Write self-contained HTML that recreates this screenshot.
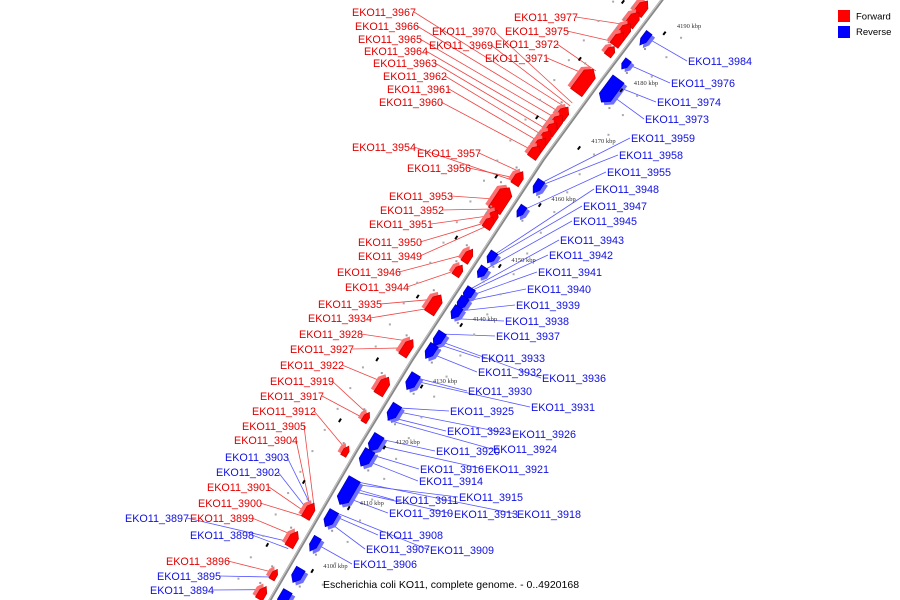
<!DOCTYPE html>
<html><head><meta charset="utf-8"><style>
html,body{margin:0;padding:0;background:#fff;}
svg{display:block;font-family:"Liberation Sans",sans-serif;}
</style></head><body>
<svg id="chart" width="900" height="600" viewBox="0 0 900 600" xmlns="http://www.w3.org/2000/svg">
<rect width="900" height="600" fill="#fff"/>
<g id="lines"></g>
<g id="genes"></g>
<g id="axis"></g>
<g id="labels"></g>
<g>
<rect x="838" y="10" width="12" height="12" fill="#f00"/>
<text x="856" y="19.5" font-size="9.5" fill="#000">Forward</text>
<rect x="838" y="26" width="12" height="12" fill="#00f"/>
<text x="856" y="35" font-size="9.5" fill="#000">Reverse</text>
</g>
<text x="323" y="588" font-size="10.5" fill="#000">Escherichia coli KO11, complete genome. - 0..4920168</text>
</svg>
<script>
const tickKbp=[4100,4110,4120,4130,4140,4150,4160,4170,4180,4190];
const tickY=[560,497,436,375,313,254,193,135,77,20];
const axisPts=[[672,-14],[662,0],[600,82],[543,160],[412,360],[357,450],[270,600],[258,620]];
const fwdKbp=[4191,4189,4187,4185.5,4183.5,4178,4172.7,4171.3,4170,4168.6,4167.3,4166,4161.6,4157.8,4155.3,4154.2,4148.8,4146.3,4140.5,4133.5,4127.3,4122.3,4116.8,4107,4102.5,4097,4094];
const fwdLen=[2.4,2.4,2.4,2.2,1.6,4.0,2.0,2.0,2.0,2.0,2.0,2.0,2.2,3.8,1.8,1.8,2.2,1.8,3.0,2.6,2.8,1.6,1.6,2.4,2.4,1.6,2.0];
const fwdH=[10,10,10,10,8,14,10,10,10,10,10,10,9,14,9,9,8,8,11,9,10,6,6,9,9,6,8];
const revKbp=[4187.7,4183.2,4179,4162,4157.8,4150.3,4147.8,4144.2,4142.6,4141,4136.7,4134.7,4129.8,4124.8,4119.8,4117.3,4111.9,4107.4,4103.3,4098.4,4094.7];
const revLen=[2.2,1.6,4.0,2.2,1.8,1.8,1.8,2.0,2.0,2.0,2.2,2.2,2.5,2.5,2.6,2.6,4.2,2.5,2.2,2.2,2.5];
const revH=[7,7,14,8,7,8,8,9,9,9,9,9,10,10,11,11,13,10,8,10,10];
const fwdLabels=[["EKO11_3967",352,12,4173.5],["EKO11_3966",355,26,4172.5],["EKO11_3965",358,39,4171.5],["EKO11_3964",364,51,4170.5],["EKO11_3963",373,63,4169.5],["EKO11_3962",383,76,4168.5],["EKO11_3961",387,89,4167.5],["EKO11_3960",379,102,4166],["EKO11_3970",432,31,4174.5],["EKO11_3969",429,45,4174],["EKO11_3977",514,17,4188],["EKO11_3975",505,31,4185],["EKO11_3972",495,44,4180],["EKO11_3971",485,58,4179],["EKO11_3954",352,147,4161],["EKO11_3957",417,153,4162.5],["EKO11_3956",407,168,4161.5],["EKO11_3953",389,196,4158],["EKO11_3952",380,210,4156.5],["EKO11_3951",369,224,4155.5],["EKO11_3950",358,242,4154.5],["EKO11_3949",358,256,4153.8],["EKO11_3946",337,272,4149.2],["EKO11_3944",345,287,4146.5],["EKO11_3935",318,304,4141.5],["EKO11_3934",308,318,4140],["EKO11_3928",299,334,4134.5],["EKO11_3927",290,349,4133.5],["EKO11_3922",280,365,4127.8],["EKO11_3919",270,381,4122.8],["EKO11_3917",260,396,4122],["EKO11_3912",252,411,4117],["EKO11_3905",242,426,4108],["EKO11_3904",234,440,4107.2],["EKO11_3901",207,487,4106.5],["EKO11_3900",198,503,4106],["EKO11_3899",190,518,4103],["EKO11_3896",166,561,4097.2]];
const revLabelsLeft=[["EKO11_3903",225,457,4107.5],["EKO11_3902",216,472,4106.8],["EKO11_3897",125,518,4102],["EKO11_3898",190,535,4101],["EKO11_3895",157,576,4096.5],["EKO11_3894",150,590,4094.5]];
const revLabels=[["EKO11_3984",688,61,4188],["EKO11_3976",671,83,4183.4],["EKO11_3974",657,102,4179.8],["EKO11_3973",645,119,4178.6],["EKO11_3959",631,138,4162.5],["EKO11_3958",619,155,4162],["EKO11_3955",607,172,4158],["EKO11_3948",595,189,4150.5],["EKO11_3947",583,206,4150],["EKO11_3945",573,221,4148],["EKO11_3943",560,240,4145],["EKO11_3942",549,255,4144.5],["EKO11_3941",538,272,4143.5],["EKO11_3940",527,289,4142.8],["EKO11_3939",516,305,4141.2],["EKO11_3938",505,321,4140],["EKO11_3937",496,336,4137.5],["EKO11_3933",481,358,4136],["EKO11_3932",478,372,4134.5],["EKO11_3936",542,378,4136.5],["EKO11_3930",468,391,4130.5],["EKO11_3931",531,407,4130],["EKO11_3925",450,411,4125.5],["EKO11_3926",512,434,4125],["EKO11_3923",447,431,4124],["EKO11_3924",493,449,4123.5],["EKO11_3920",436,451,4120.5],["EKO11_3921",485,469,4119.5],["EKO11_3916",420,469,4118],["EKO11_3914",419,481,4117],["EKO11_3915",459,497,4113],["EKO11_3911",395,500,4112.5],["EKO11_3910",389,513,4111],["EKO11_3913",454,514,4112],["EKO11_3918",517,514,4113.5],["EKO11_3908",379,535,4108],["EKO11_3907",366,549,4107],["EKO11_3909",430,550,4108.5],["EKO11_3906",353,564,4103.5]];

const NS="http://www.w3.org/2000/svg";
function kbpToY(k){
  for(let i=0;i<tickKbp.length-1;i++){
    if(k<=tickKbp[i+1]||i===tickKbp.length-2){
      const t=(k-tickKbp[i])/(tickKbp[i+1]-tickKbp[i]);
      return tickY[i]+t*(tickY[i+1]-tickY[i]);
    }
  }
}
function yToX(y){
  for(let i=0;i<axisPts.length-1;i++){
    const a=axisPts[i],b=axisPts[i+1];
    if(y<=b[1]||i===axisPts.length-2){
      const t=(y-a[1])/(b[1]-a[1]);return a[0]+t*(b[0]-a[0]);
    }
  }
}
function pt(k){const y=kbpToY(k);return [yToX(y),y];}
function dirAt(k){const a=pt(k-0.5),b=pt(k+0.5);const dx=b[0]-a[0],dy=b[1]-a[1];const l=Math.hypot(dx,dy);return [dx/l,dy/l];}
function mk(tag,attrs,parent){const e=document.createElementNS(NS,tag);for(const k in attrs)e.setAttribute(k,attrs[k]);parent.appendChild(e);return e;}
const gAxis=document.getElementById('axis'),gGenes=document.getElementById('genes'),gLines=document.getElementById('lines'),gLabels=document.getElementById('labels');

const axisLine=mk('polyline',{points:axisPts.map(p=>p.join(',')).join(' '),fill:'none',stroke:'#888','stroke-width':3},gAxis);


mk('polyline',{points:axisPts.map(p=>(p[0]-0.6)+','+(p[1]-0.4)).join(' '),fill:'none',stroke:'#c8c8c8','stroke-width':1},gAxis);

tickKbp.forEach((k,i)=>{
  const p=pt(k),d=dirAt(k),n=[-d[1],d[0]];
  const nx=n[0]>0?n:[-n[0],-n[1]];
  const c=[p[0]+nx[0]*22,p[1]+nx[1]*22];
  const dash=mk('line',{x1:c[0]-d[0]*2,y1:c[1]-d[1]*2,x2:c[0]+d[0]*2,y2:c[1]+d[1]*2,stroke:'#000','stroke-width':2},gAxis);
  
  
  const c2=[p[0]-nx[0]*30,p[1]-nx[1]*30];
  mk('line',{x1:c2[0]-d[0]*2,y1:c2[1]-d[1]*2,x2:c2[0]+d[0]*2,y2:c2[1]+d[1]*2,stroke:'#000','stroke-width':2},gAxis);
  const t=mk('text',{x:p[0]+30,y:p[1]+8,'font-size':6.5,fill:'#333','font-family':'Liberation Serif, serif'},gAxis);
  t.textContent=k+' kbp';
  
  
});
for(let k=4094;k<=4193;k+=1.7){
  const p=pt(k),d=dirAt(k);const n=[-d[1],d[0]];const s=(Math.round(k*10)%2)?1:-1;
  mk('rect',{x:p[0]+n[0]*s*38-1,y:p[1]+n[1]*s*38-1,width:2,height:2,fill:'#aaa'},gAxis);
}

function drawGene(k,len,h,fwd,idx){
  const k0=k-len/2,k1=k+len/2;
  const d=dirAt(k);let n=[-d[1],d[0]];
  if(fwd){ if(n[0]>0)n=[-n[0],-n[1]]; } else { if(n[0]<0)n=[-n[0],-n[1]]; }
  const P0=pt(fwd?k0:k1),P1=pt(fwd?k1:k0);
  const dd=fwd?d:[-d[0],-d[1]];
  const tip=Math.min(6,Math.hypot(P1[0]-P0[0],P1[1]-P0[1])*0.4);
  const o=6;
  const Pk=[P1[0]-dd[0]*tip,P1[1]-dd[1]*tip];
  const f=(P,m)=>[P[0]+n[0]*m,P[1]+n[1]*m];
  const poly=[f(P0,o),f(Pk,o),f(P1,o+h/2),f(Pk,o+h),f(P0,o+h)];
  const ex=fwd?[-3,-3]:[3,3];
  const col=fwd?'#ff0000':'#0000ff',dark=fwd?'#c00000':'#0000b0',light=fwd?'#ff7070':'#7070ff';
  mk('polygon',{points:poly.map(p=>(p[0]+ex[0])+','+(p[1]+ex[1])).join(' '),fill:light},gGenes);
  const g=mk('polygon',{points:poly.map(p=>p.join(',')).join(' '),fill:col,stroke:dark,'stroke-width':0.6},gGenes);
  
  
  const c=f(P1,o+h+3);
  mk('rect',{x:c[0]-1,y:c[1]-1,width:2,height:2,fill:'#999'},gGenes);
}
fwdKbp.forEach((k,i)=>drawGene(k,fwdLen[i],fwdH[i],true,i));
revKbp.forEach((k,i)=>drawGene(k,revLen[i],revH[i],false,i));

function label(arr,color,lineColor,side){
  arr.forEach(r=>{
    const [name,x,y,k]=r;
    const p=pt(k),d=dirAt(k);let n=[-d[1],d[0]];
    if(side==='right'){ if(n[0]<0)n=[-n[0],-n[1]]; } else { if(n[0]>0)n=[-n[0],-n[1]]; }
    const tgt=[p[0]+n[0]*10,p[1]+n[1]*10];
    const sx=side==='right'?x-1:x+62;
    const ln=mk('line',{x1:sx,y1:y,x2:tgt[0],y2:tgt[1],stroke:lineColor,'stroke-width':0.8},gLines);
    
    
    const t=mk('text',{x:x,y:y+4,'font-size':10.8,fill:color},gLabels);
    t.textContent=name;
    
    
  });
}
label(fwdLabels,'#e00000','#ee4444','left');
label(revLabels,'#1010e0','#5555ff','right');
label(revLabelsLeft,'#1010e0','#5555ff','left');
</script>
</body></html>
